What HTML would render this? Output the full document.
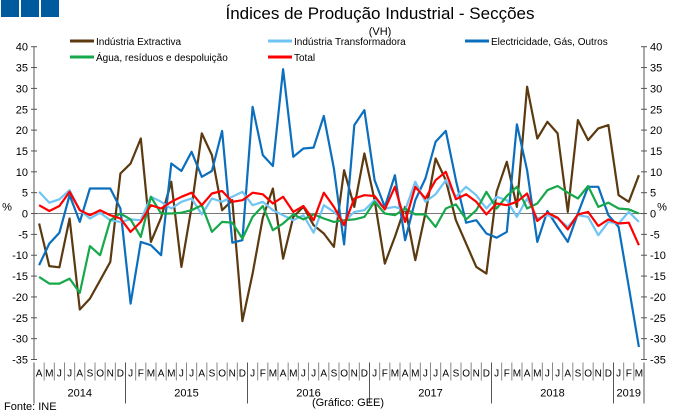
<!DOCTYPE html>
<html><head><meta charset="utf-8"><style>
body{margin:0;background:#fff;}
svg text{font-family:"Liberation Sans",sans-serif;fill:#000;}
</style></head><body>
<svg id="chart" width="680" height="415" viewBox="0 0 680 415" xmlns="http://www.w3.org/2000/svg">
<rect x="1" y="0" width="18" height="17" fill="#005a9e"/>
<rect x="21" y="0" width="18" height="17" fill="#005a9e"/>
<rect x="41" y="0" width="18" height="17" fill="#005a9e"/>
<text x="380" y="19" font-size="17" text-anchor="middle">Índices de Produção Industrial - Secções</text>
<text x="380" y="35" font-size="11" text-anchor="middle">(VH)</text>
<g id="legend"></g>
<g id="axes"></g>
<g id="series"></g>
<text x="4" y="410" font-size="11">Fonte: INE</text>
<text x="348" y="406" font-size="11" text-anchor="middle">(Gráfico: GEE)</text>
</svg>
<script>
const months = ["A","M","J","J","A","S","O","N","D","J","F","M","A","M","J","J","A","S","O","N","D","J","F","M","A","M","J","J","A","S","O","N","D","J","F","M","A","M","J","J","A","S","O","N","D","J","F","M","A","M","J","J","A","S","O","N","D","J","F","M"];
const years = ["2014","2015","2016","2017","2018","2019"];
const yearMonths = [9,12,12,12,12,3];
const yTicks = [40,35,30,25,20,15,10,5,0,-5,-10,-15,-20,-25,-30,-35];
const extractiva = [-2.4,-12.6,-12.9,-1.2,-23,-20.4,-16,-11.6,9.6,12,18,-6.8,-1,7.6,-12.8,1.6,19.2,14,0.8,3.2,-25.8,-14.4,-1,6,-10.8,-0.8,1.6,-2.8,-4.8,-8,10.4,1.6,14.4,3.2,-12,-5.6,1.6,-11.2,0,13.2,8,-1.6,-7.2,-12.8,-14.4,5.2,12.4,1.6,30.4,18,22,19.2,0.4,22.4,17.6,20.4,21.2,4.4,2.8,9.2];
const transformadora = [5.2,2.6,3.4,5.6,0.8,-1.2,0.2,-1.6,-2,-1.4,-1.6,4,2.8,1.2,2.8,3.6,-0.2,3.6,2.8,4,5.2,2,2.8,0.8,-0.4,-1.6,-0.4,-4.6,2,0.4,-2,0.4,0.8,3.2,1.2,1.6,0.8,7.6,2.8,4.6,8,4,6.4,4.4,1.2,4,3.2,-0.8,3.6,-1.2,-0.4,-1.2,-3.2,-0.4,-0.8,-5.2,-2,-2.4,0.4,-2];
const electricidade = [-12.4,-7.2,-4.6,4.4,-2,6,6,6,1.2,-21.6,-6.8,-7.6,-10,12,10.2,14.8,8.8,10.2,19.8,-7,-6.4,25.6,14,11.4,34.6,13.6,15.6,15.8,23.4,10.8,-7.4,21.2,24.8,8,1.6,9.2,-6.4,3.2,8.4,17.2,19.8,8,-2.2,-1.6,-4.8,-5.8,-4.4,21.4,10.4,-6.8,0.6,-3.2,-6.8,0,6.4,6.4,-0.4,-3.2,-17.6,-32];
const agua = [-15.2,-16.8,-16.8,-15.6,-19,-7.8,-10,-1.6,0,-1.4,-5.6,4,0,0,0.2,0.8,2,-4.4,-2,-2.2,-6,-0.8,1.8,-4,-2.4,-0.2,-1.4,-0.2,-1.2,-2,-1.6,-1.4,-0.8,2.8,0,-0.4,1.2,-0.2,-0.2,-3.2,1.2,2.2,-1.4,0.8,5.2,1.2,4.2,6.4,1.2,2.4,5.6,6.6,5,3.6,6.6,1.6,2.6,1.2,1,0];
const total = [2,0.6,1.8,5.2,0.8,-0.4,0.8,-0.4,-1.2,-4.4,-2,2,1.2,2.8,4,5,2,4.8,5.4,2.8,3.2,5,4.6,2.4,4,0.4,1.8,-1.6,5,1.6,-2.8,3.6,4.4,4.2,1,6.4,-2,6.4,3.6,8,10,3.4,4.6,2.8,-0.2,2.4,2,2.8,4.8,-1.8,0.2,-1,-3.8,-0.2,0.4,-3,-1.4,-2.4,-2.2,-7.6];
const seriesNames = ["Indústria Extractiva","Indústria Transformadora","Electricidade, Gás, Outros","Água, resíduos e despoluição","Total"];

const NS="http://www.w3.org/2000/svg";
const X0=34,X1=644,Y0=46.7,Y1=359.5,YMAX=40,YMIN=-35;
const cw=(X1-X0)/months.length;
const xPos=i=>X0+(i+0.5)*cw;
const yPos=v=>Y0+(YMAX-v)*(Y1-Y0)/(YMAX-YMIN);
function mk(tag,attrs,parent){const e=document.createElementNS(NS,tag);for(const k in attrs)e.setAttribute(k,attrs[k]);parent.appendChild(e);return e;}
const axes=document.getElementById('axes'),series=document.getElementById('series'),legend=document.getElementById('legend');

// zero line
let z=mk('line',{x1:X0,x2:X1,y1:yPos(0),y2:yPos(0),stroke:'#777','stroke-width':1},axes);


// y axes
[X0,X1].forEach((ax,side)=>{
  let l=mk('line',{x1:ax,x2:ax,y1:Y0,y2:Y1,stroke:'#555','stroke-width':1},axes);
  
  
  yTicks.forEach(t=>{
    const y=yPos(t);
    let tk=mk('line',{x1:ax-3,x2:ax+3,y1:y,y2:y,stroke:'#555'},axes);
    
    
    let tx=mk('text',{x:side?ax+6:ax-6,y:y+4,'font-size':11,'text-anchor':side?'start':'end'},axes);
    tx.textContent=t;
    
    
  });
  let p=mk('text',{x:side?662:7,y:yPos(0)-3,'font-size':11,'text-anchor':'middle'},axes);
  p.textContent='%';
  
  
});
// category axis
months.forEach((m,i)=>{
  let s=mk('line',{x1:X0+i*cw,x2:X0+i*cw,y1:Y1+3,y2:Y1+21,stroke:'#888'},axes);
  
  
  let t=mk('text',{x:xPos(i),y:Y1+17,'font-size':10,'text-anchor':'middle'},axes);
  t.textContent=m;
  
  
});
let acc=0;
years.forEach((yr,k)=>{
  const xa=X0+acc*cw;acc+=yearMonths[k];const xb=X0+acc*cw;
  let d=mk('line',{x1:xa,x2:xa,y1:Y1+3,y2:Y1+44,stroke:'#555'},axes);
  
  
  let t=mk('text',{x:(xa+xb)/2,y:Y1+37,'font-size':11,'text-anchor':'middle'},axes);
  t.textContent=yr;
  
  
});
let dEnd=mk('line',{x1:X1,x2:X1,y1:Y1+3,y2:Y1+44,stroke:'#555'},axes);



// series
const data=[extractiva,transformadora,electricidade,agua,total];
const colors=['#5c3a10','#70c4f4','#0b6fbe','#16a84a','#ff0000'];
const ids=['series-extractiva','series-transformadora','series-electricidade','series-agua','series-total'];
const order=[0,2,1,3,4];
order.forEach(k=>{
  const pts=data[k].map((v,i)=>xPos(i).toFixed(1)+','+yPos(v).toFixed(1)).join(' ');
  let pl=mk('polyline',{points:pts,fill:'none',stroke:colors[k],'stroke-width':2.2,'stroke-linejoin':'round'},series);
  
  
});
// legend
const lpos=[[70,41],[268,41],[465,41],[70,57],[268,57]];
seriesNames.forEach((n,k)=>{
  const [x,y]=lpos[k];
  let l=mk('line',{x1:x,x2:x+24,y1:y,y2:y,stroke:colors[k],'stroke-width':3},legend);
  
  
  let t=mk('text',{x:x+26,y:y+4,'font-size':10},legend);
  t.textContent=n;
  
  
});
</script>
</body></html>
